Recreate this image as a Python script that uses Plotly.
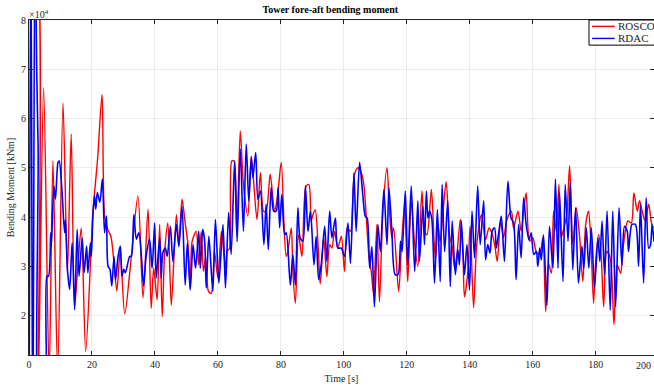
import plotly.graph_objects as go

# Time [s] and bending moment [x10^4 kNm]
rosco_time = [0, 0.7, 2.0, 2.9, 4.65, 6.4, 7.6, 9.1, 10.8, 12.2, 13.4, 14.5, 15.5, 16.6, 18.0, 19.8, 20.3, 21.8, 23.2, 24.0,
              25.0, 26.0, 27.0, 27.9, 29.0, 30.4, 32.5, 34.6, 36.2, 37.8, 38.8, 39.6, 40.7, 41.5, 42.3, 43.1, 44.1, 45.2, 46.8, 47.6,
              48.6, 49.6, 50.5, 51.2, 51.8, 53.1, 53.9, 54.7, 55.4, 56.1, 57.0, 57.9, 58.9, 60.0, 61.1, 62.4, 62.9, 63.7, 64.4, 65.1,
              66.0, 67.1, 68.1, 69.5, 70.6, 72.4, 73.5, 74.5, 75.3, 76.6, 78.0, 79.0, 80.1, 81.0, 81.7, 82.2, 83.3, 83.8, 84.6, 85.6,
              86.7, 88.0, 88.9, 89.6, 90.2, 90.9, 91.8, 92.5, 93.6, 94.6, 95.5, 96.2, 97.0, 98.1, 99.2, 100.2, 101.1, 102.1, 103.4, 104.5,
              105.7, 106.4, 107.1, 108.0, 108.7, 109.4, 110.5, 111.3, 112.4, 113.7, 114.5, 115.2, 115.8, 117.4, 118.3, 119.3, 119.8, 120.3, 121.4, 122.5,
              123.5, 124.8, 125.6, 126.4, 127.8, 128.6, 129.1, 129.9, 130.6, 131.5, 132.5, 133.6, 134.3, 135.2, 135.9, 137.0, 137.8, 138.3, 139.4, 140.1,
              141.2, 142.2, 143.7, 145.0, 146.1, 146.8, 147.9, 148.7, 149.8, 150.7, 151.8, 153.2, 153.9, 155.3, 156.3, 157.1, 157.9, 159.0, 160.0, 161.1,
              162.2, 163.2, 164.1, 165.0, 165.9, 166.6, 167.5, 168.3, 169.0, 169.9, 170.8, 171.7, 172.7, 173.8, 174.9, 175.9, 176.8, 177.7, 178.4, 179.3,
              179.9, 180.9, 181.7, 182.5, 183.5, 184.6, 185.8, 186.8, 187.9, 188.8, 190.2, 191.3, 192.1, 193.2, 193.9, 195.0, 195.7, 196.8, 197.8, 198.5]
rosco_moment = [1.0, 9.5, 9.5, 0.5, 6.63, 0.8, 5.14, 0.8, 6.31, 2.87, 5.68, 2.19, 3.0, 3.78, 1.27, 3.48, 4.1, 5.2, 6.49, 4.02,
                3.75, 3.61, 3.07, 2.5, 3.34, 2.03, 3.2, 4.43, 2.36, 4.16, 2.15, 2.96, 2.32, 3.85, 1.98, 3.3, 3.88, 2.21, 4.05, 3.44,
                4.36, 3.88, 3.44, 2.56, 3.5, 3.71, 3.03, 3.71, 2.9, 3.17, 2.49, 2.45, 3.3, 2.76, 3.71, 2.96, 3.3, 3.37, 5.14, 5.14,
                3.71, 5.75, 4.66, 4.02, 5.24, 3.95, 4.9, 4.12, 4.12, 4.87, 4.12, 4.46, 5.11, 3.85, 3.2, 3.3, 3.78, 2.9, 2.25, 3.64,
                3.2, 4.63, 4.66, 3.92, 4.05, 4.15, 3.44, 2.64, 3.58, 2.79, 3.44, 3.37, 3.71, 3.37, 3.61, 2.9, 3.78, 3.71, 4.87, 5.0,
                4.87, 4.63, 4.02, 3.17, 2.9, 2.45, 3.85, 2.28, 4.12, 5.0, 4.12, 3.58, 3.78, 2.49, 3.44, 4.26, 3.51, 2.69, 4.33, 3.44,
                3.0, 4.53, 3.71, 3.64, 4.56, 3.58, 3.13, 3.85, 3.5, 4.12, 4.72, 3.61, 3.44, 2.96, 3.24, 3.95, 3.3, 2.38, 2.9, 3.81,
                2.16, 3.44, 4.05, 3.54, 3.78, 3.71, 3.44, 3.1, 3.92, 3.58, 3.95, 4.12, 3.78, 4.12, 3.71, 4.12, 4.49, 3.51, 3.58, 3.3,
                3.24, 3.58, 2.08, 3.06, 2.86, 4.12, 3.71, 4.66, 3.58, 3.78, 4.05, 5.04, 3.44, 4.19, 3.58, 2.69, 3.85, 4.12, 3.58, 2.25,
                3.03, 3.64, 3.24, 2.18, 3.3, 3.17, 1.82, 3.03, 2.86, 3.44, 3.92, 3.88, 4.49, 4.12, 4.33, 4.05, 3.92, 4.26, 3.85, 3.78]

rdac_time = [0, 0.6, 1.2, 1.9, 2.4, 2.9, 3.8, 5.0, 5.7, 6.2, 6.9, 7.1, 7.9, 8.4, 9.2, 9.6, 10.5, 11.3, 11.6, 12.2,
             12.9, 13.7, 14.5, 15.3, 15.9, 16.9, 17.5, 18.3, 18.7, 19.5, 19.8, 20.3, 20.8, 21.2, 21.7, 22.5, 23.3, 24.0, 24.6, 25.1,
             25.7, 26.3, 27.0, 27.5, 28.3, 29.0, 29.5, 30.1, 30.6, 32.0, 32.5, 33.3, 34.1, 34.9, 35.7, 36.4, 37.2, 38.3, 39.1, 39.9,
             40.4, 41.5, 42.0, 42.5, 43.3, 43.9, 44.9, 45.7, 46.8, 47.6, 48.6, 49.6, 50.3, 51.2, 52.1, 52.9, 53.9, 54.4, 55.2, 55.8,
             56.3, 57.1, 57.9, 58.4, 59.2, 60.3, 61.6, 62.4, 63.4, 64.2, 65.3, 66.1, 67.1, 68.1, 69.0, 69.8, 70.6, 71.1, 72.0, 72.7,
             73.5, 74.6, 75.3, 76.0, 76.9, 77.7, 78.5, 79.1, 79.6, 80.3, 81.2, 81.7, 83.0, 83.8, 84.6, 85.4, 86.1, 87.0, 87.8, 88.6,
             89.4, 90.5, 91.2, 92.0, 92.8, 93.9, 94.6, 95.5, 96.2, 97.3, 98.1, 99.2, 100.2, 101.3, 102.1, 103.2, 103.9, 105.0, 106.0, 106.8,
             107.4, 108.2, 108.9, 109.7, 110.8, 111.6, 112.7, 113.7, 114.3, 115.2, 116.3, 117.2, 118.0, 118.5, 119.5, 120.3, 121.4, 122.5, 123.5, 124.0,
             125.1, 125.6, 126.2, 126.7, 127.2, 127.9, 128.8, 129.7, 130.6, 131.2, 132.0, 133.0, 133.8, 134.4, 135.4, 136.2, 136.7, 137.3, 138.3, 139.1,
             139.9, 140.7, 141.5, 142.5, 143.3, 144.4, 145.0, 145.7, 146.4, 147.1, 147.9, 148.4, 149.1, 150.0, 151.0, 152.1, 153.1, 153.9, 154.7, 155.5,
             156.3, 157.1, 157.9, 158.8, 159.5, 160.3, 161.1, 161.6, 162.2, 162.7, 163.4, 164.5, 165.3, 166.4, 167.2, 168.0, 168.5, 169.6, 170.3, 171.2,
             171.9, 172.7, 173.6, 174.5, 175.6, 176.2, 177.0, 177.8, 178.6, 179.6, 180.7, 181.3, 182.0, 182.8, 183.6, 184.6, 185.4, 186.3, 187.4, 188.3,
             189.1, 190.0, 190.4, 191.5, 192.6, 193.6, 194.2, 195.2, 196.0, 196.8, 197.4, 197.9, 198.5]
rdac_moment = [-1.0, 10.0, -1.0, 10.0, 7.16, 5.4, -1.0, -1.0, 2.8, 2.8, 3.68, 3.41, 4.63, 4.36, 5.1, 5.14, 4.5, 3.68, 3.95, 2.94,
               2.53, 3.48, 2.12, 3.75, 2.8, 3.58, 2.87, 3.41, 2.87, 3.48, 3.2, 4.02, 4.43, 4.16, 4.5, 4.3, 4.77, 3.68, 4.02, 3.0,
               2.94, 2.6, 3.2, 2.73, 3.2, 3.41, 2.8, 2.94, 2.87, 3.2, 3.2, 4.05, 3.55, 3.68, 3.2, 2.6, 3.2, 3.55, 2.96, 3.88,
               2.76, 3.58, 2.76, 3.27, 3.37, 3.2, 3.81, 3.1, 3.85, 3.4, 4.22, 2.62, 3.47, 2.52, 3.44, 2.96, 3.71, 2.96, 3.75, 3.5,
               2.56, 3.61, 2.9, 2.49, 3.95, 2.66, 3.85, 2.56, 4.09, 3.24, 5.14, 3.5, 5.38, 3.71, 5.48, 4.33, 5.21, 4.8, 5.31, 4.36,
               4.53, 3.44, 4.26, 3.34, 4.6, 4.12, 4.12, 4.6, 3.78, 4.46, 3.64, 3.68, 2.62, 3.24, 2.62, 4.19, 3.58, 3.51, 4.63, 3.71,
               4.12, 3.03, 3.61, 2.73, 3.03, 3.81, 3.1, 4.12, 3.58, 3.98, 3.37, 3.37, 3.2, 3.88, 3.06, 4.9, 3.71, 5.11, 4.46, 4.02,
               3.98, 2.96, 3.4, 2.18, 3.85, 3.3, 4.56, 3.44, 4.6, 3.78, 2.83, 2.83, 3.51, 3.3, 4.53, 3.03, 4.63, 2.9, 4.33, 3.1,
               4.22, 3.44, 4.53, 3.98, 4.12, 3.98, 2.66, 4.15, 2.69, 4.66, 3.3, 4.33, 2.59, 3.92, 2.83, 3.34, 3.03, 3.92, 2.83, 3.44,
               2.52, 4.12, 3.17, 4.63, 3.44, 4.33, 3.13, 3.44, 3.27, 3.71, 3.78, 3.37, 3.64, 4.02, 3.1, 4.73, 3.98, 3.88, 2.73, 3.85,
               3.17, 4.39, 3.85, 3.54, 3.68, 3.24, 3.3, 3.0, 3.37, 3.13, 3.64, 2.21, 3.81, 2.96, 4.77, 2.96, 4.49, 2.69, 4.66, 3.51,
               4.7, 2.93, 4.19, 2.66, 3.41, 2.96, 3.78, 2.96, 3.78, 2.56, 3.58, 3.1, 3.92, 2.83, 4.12, 2.11, 4.12, 2.18, 4.19, 3.03,
               3.81, 3.71, 3.3, 3.85, 3.85, 3.0, 4.26, 2.66, 4.39, 3.37, 3.44, 3.85, 3.5]

x_ticks = [0, 20, 40, 60, 80, 100, 120, 140, 160, 180]
y_ticks = [2, 3, 4, 5, 6, 7, 8]
series_names = ["ROSCO", "RDAC"]
series_colors = ["#ff0000", "#0000ff"]

FONT = "Liberation Serif, Times New Roman, serif"
AX = "#262626"

fig = go.Figure()
fig.add_trace(go.Scatter(x=rosco_time, y=rosco_moment, mode="lines", name=series_names[0],
                         line=dict(color=series_colors[0], width=1.4, shape="spline", smoothing=0.8)))
fig.add_trace(go.Scatter(x=rdac_time, y=rdac_moment, mode="lines", name=series_names[1],
                         line=dict(color=series_colors[1], width=1.6, shape="spline", smoothing=0.8)))

fig.update_layout(
    width=654, height=388,
    margin=dict(l=29, r=0, t=20, b=33, autoexpand=False),
    paper_bgcolor="white", plot_bgcolor="white",
    font=dict(family=FONT, size=10, color=AX),
    title=dict(text="<b>Tower fore-aft bending moment</b>", x=0.505, xref="container", xanchor="center",
               y=1, yref="container", yanchor="top", pad=dict(t=6), font=dict(size=10, color="black")),
    showlegend=False,
)
fig.update_xaxes(range=[0, 198.5], tickvals=x_ticks, ticks="inside", ticklen=4, tickcolor=AX,
                 showline=True, linecolor=AX, linewidth=1, mirror="ticks", showgrid=True,
                 gridcolor="#ebebeb", zeroline=False, automargin=False,
                 title=dict(text="Time [s]", standoff=5, font=dict(size=10)))
fig.update_yaxes(range=[1.2, 8], tickvals=y_ticks, ticks="inside", ticklen=4, tickcolor=AX,
                 showline=True, linecolor=AX, linewidth=1, mirror="ticks", showgrid=True,
                 gridcolor="#ebebeb", zeroline=False, automargin=False,
                 title=dict(text="Bending Moment [kNm]", standoff=4, font=dict(size=10)))
fig.add_annotation(text="×10<sup>4</sup>", xref="paper", yref="paper", x=0, y=1, xanchor="left",
                   yanchor="bottom", showarrow=False, font=dict(size=10, color=AX), xshift=-2, yshift=-2)
fig.add_annotation(text="200", xref="paper", yref="paper", x=1, y=0, xanchor="right", yanchor="top",
                   showarrow=False, font=dict(size=10, color=AX), yshift=-3, xshift=-1)

# legend box (top-right corner of the axes)
fig.add_shape(type="rect", xref="paper", yref="paper", x0=0.896, x1=1.03, y0=0.925, y1=1.0,
              line=dict(color="black", width=1), fillcolor="white", layer="above")
for i, (nm, col) in enumerate(zip(series_names, series_colors)):
    yy = 0.981 - i * 0.036
    fig.add_shape(type="line", xref="paper", yref="paper", x0=0.901, x1=0.937, y0=yy, y1=yy,
                  line=dict(color=col, width=1.4), layer="above")
    fig.add_annotation(text=nm, xref="paper", yref="paper", x=0.939, y=yy, xanchor="left",
                       yanchor="middle", showarrow=False, font=dict(size=11, color=AX))

fig.write_html("out.html")
